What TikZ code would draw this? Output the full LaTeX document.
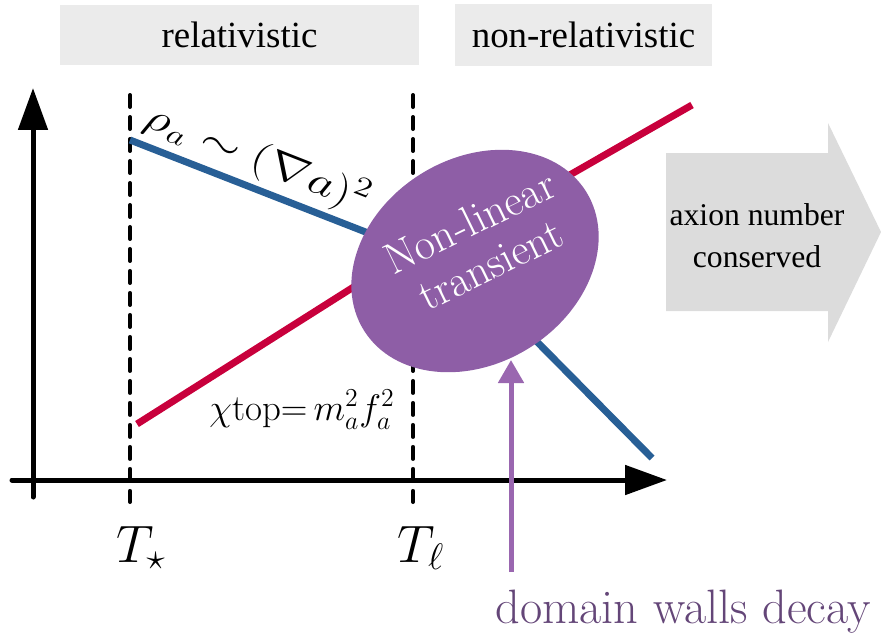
\documentclass[tikz,border=0pt]{standalone}
\usepackage{fix-cm}
\usepackage{amsmath,amssymb}
\usepackage{fontspec}
\usepackage{xcolor}
\usepackage{tikz}
\usetikzlibrary{arrows.meta,positioning,calc,shapes.geometric}
\newfontfamily\timesfont{Liberation Serif}
\definecolor{axBlue}{HTML}{285F96}
\definecolor{axRed}{HTML}{C8003C}
\definecolor{nlPurple}{HTML}{8E5EA6}
\definecolor{dwPurple}{HTML}{9A67B0}
\definecolor{dwText}{HTML}{644678}
\definecolor{regGray}{HTML}{EBEBEB}
\definecolor{consGray}{HTML}{DCDCDC}

\begin{document}
\begin{tikzpicture}[x=0.02cm, y=-0.02cm,
  axis/.style={line width=0.1cm, line cap=round, -{Triangle[length=0.84cm,width=0.58cm]}},
  tline/.style={line width=0.08cm, dash pattern=on 0.24cm off 0.2cm, line cap=round},
  curve/.style={line width=0.14cm, line join=round},
  regime/.style={fill=regGray, inner sep=0pt, font=\timesfont\fontsize{21}{25}\selectfont},
  tlabel/.style={anchor=base, font=\fontsize{30}{36}\selectfont}]
\useasboundingbox (0,0) rectangle (881,633);
% regimes
\node[regime, minimum width=7.18cm, minimum height=1.2cm] (rel) at (239.5,35) {relativistic};
\node[regime, minimum width=5.14cm, minimum height=1.24cm] (nonrel) at (583.5,35) {non-relativistic};
% T_star and T_ell
\coordinate (Ts top) at (130,95);
\coordinate (Ts bot) at (130,502);
\coordinate (Tl top) at (413,95);
\coordinate (Tl bot) at (413,502);
\draw[tline] (Ts top) -- (Ts bot);
\draw[tline] (Tl top) -- (Tl bot);
\node[tlabel] (Ts) at (141,562) {$T_\star$};
\node[tlabel] (Tl) at (421,562) {$T_\ell$};
% axes
\coordinate (ybot) at (33,497);
\coordinate (ytop) at (33,88);
\coordinate (xleft) at (12,480);
\coordinate (xright) at (667,480);
\draw[axis] (ybot) -- (ytop);
\draw[axis] (xleft) -- (xright);
% gradient energy (kink hidden by the transient)
\coordinate (rho0) at (130,140);
\coordinate (rho1) at (468,272);
\coordinate (rho2) at (652,458);
\draw[curve, axBlue] (rho0) -- (rho1) -- (rho2);
% topological susceptibility
\coordinate (chi0) at (137,424);
\coordinate (chi1) at (420,245);
\coordinate (chi2) at (540,192);
\coordinate (chi3) at (692,105);
\draw[curve, axRed] (chi0) -- (chi1) -- (chi2) -- (chi3);
\node[anchor=base, font=\fontsize{21}{25}\selectfont] (chi) at (302,420) {$\chi\mathrm{top}{=}\,m_a^2f_a^2$};
% transient
\node[ellipse, fill=nlPurple, rotate=32, minimum width=5.24cm, minimum height=4.1cm] (nl) at (475,261) {};
\node[rotate=26, align=center, text=white, font=\fontsize{25}{27}\selectfont] (nltext) at (480,243) {Non-linear\\transient};
\node[rotate=-21.5, xscale=1.3, anchor=base west, inner sep=0pt, font=\fontsize{22.5}{26}\selectfont] (rho) at (142,125) {$\rho_a\sim(\nabla a)^2$};
% domain walls
\node[anchor=base, text=dwText, font=\fontsize{27.5}{32}\selectfont] (dw) at (683,623) {domain walls decay};
\coordinate (dwfoot) at (511,572);
\coordinate (dwtip) at (511,360);
\draw[line width=0.1cm, dwPurple, -{Triangle[length=0.46cm,width=0.5cm]}] (dwfoot) -- (dwtip);
% conservation
\fill[consGray] (666,153) -- (828,153) -- (828,123) -- (881,232) -- (828,342) -- (828,311) -- (666,311) -- cycle;
\node[align=center, font=\timesfont\fontsize{18}{24}\selectfont] (cons) at (757,236) {axion number\\conserved};
\end{tikzpicture}
\end{document}
